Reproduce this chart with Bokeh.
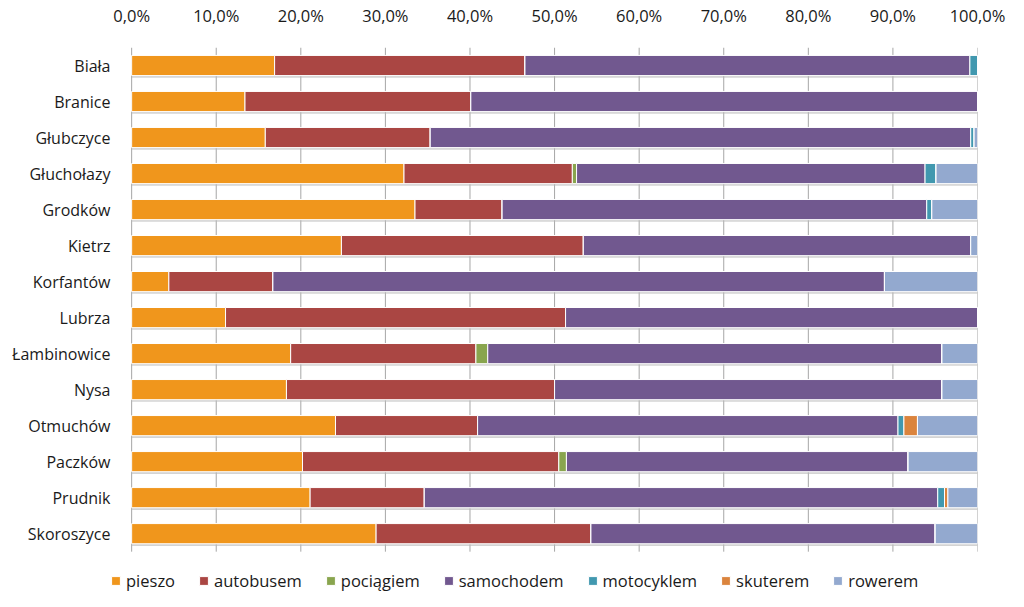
from bokeh.plotting import figure
from bokeh.models import (Range1d, FixedTicker, Legend, LegendItem, ColumnDataSource)
from bokeh.transform import dodge
from bokeh.embed import file_html
from bokeh.resources import INLINE

gminy = ["Biała", "Branice", "Głubczyce", "Głuchołazy", "Grodków", "Kietrz",
         "Korfantów", "Lubrza", "Łambinowice", "Nysa", "Otmuchów", "Paczków",
         "Prudnik", "Skoroszyce"]

pieszo     = [16.9, 13.4, 15.8, 32.2, 33.5, 24.8, 4.4, 11.1, 18.8, 18.3, 24.1, 20.2, 21.1, 28.9]
autobusem  = [29.6, 26.7, 19.5, 19.9, 10.3, 28.6, 12.3, 40.2, 21.9, 31.7, 16.8, 30.3, 13.5, 25.4]
pociagiem  = [0.0, 0.0, 0.0, 0.5, 0.0, 0.0, 0.0, 0.0, 1.4, 0.0, 0.0, 0.9, 0.0, 0.0]
samochodem = [52.6, 59.9, 63.9, 41.2, 50.2, 45.8, 72.3, 48.7, 53.7, 45.8, 49.7, 40.4, 60.7, 40.7]
motocyklem = [0.9, 0.0, 0.4, 1.3, 0.6, 0.0, 0.0, 0.0, 0.0, 0.0, 0.7, 0.0, 0.8, 0.0]
skuterem   = [0.0, 0.0, 0.0, 0.0, 0.0, 0.0, 0.0, 0.0, 0.0, 0.0, 1.6, 0.0, 0.4, 0.0]
rowerem    = [0.0, 0.0, 0.4, 4.9, 5.4, 0.8, 11.0, 0.0, 4.2, 4.2, 7.1, 8.2, 3.5, 5.0]

series = ["pieszo", "autobusem", "pociągiem", "samochodem", "motocyklem", "skuterem", "rowerem"]
colors = ["#F0961C", "#AA4643", "#89A54E", "#71588F", "#4198AF", "#DB843D", "#93A9CF"]

x_ticks = [0, 10, 20, 30, 40, 50, 60, 70, 80, 90, 100]
x_tick_labels = ["0,0%", "10,0%", "20,0%", "30,0%", "40,0%", "50,0%", "60,0%",
                 "70,0%", "80,0%", "90,0%", "100,0%"]

n = len(gminy)
ypos = list(range(n))  # row index, 0 = top
totals = [round(a + b + c + d + e + f + g, 1) for a, b, c, d, e, f, g in
          zip(pieszo, autobusem, pociagiem, samochodem, motocyklem, skuterem, rowerem)]

src = ColumnDataSource(dict(y=ypos, gmina=gminy, pieszo=pieszo, autobusem=autobusem,
                            pociągiem=pociagiem, samochodem=samochodem,
                            motocyklem=motocyklem, skuterem=skuterem,
                            rowerem=rowerem, total=totals, zero=[0] * n))

FONT = "Open Sans"

# frame: left edge a bit left of 0 % so the legend can start there
p = figure(width=1024, height=607, output_backend="svg", toolbar_location=None,
           x_range=Range1d(-2.5, 100), y_range=Range1d(n - 0.5 + 1.55, -0.5),
           x_axis_location="above",
           min_border_left=110, min_border_right=47, min_border_top=46,
           min_border_bottom=0)
p.outline_line_color = None
p.background_fill_color = "white"
p.xgrid.grid_line_color = None
p.ygrid.grid_line_color = None

# vertical gridlines limited to the bar area
p.segment(x0=x_ticks, x1=x_ticks, y0=[-0.5] * len(x_ticks), y1=[n - 0.5] * len(x_ticks),
          line_color="#A6A6A6", line_width=1)

# subtle bar shadow
p.hbar(y=dodge("y", 0.06), left="zero", right="total",
       height=0.56, source=src, fill_color="#B8B8B8", fill_alpha=0.6, line_color=None)

rs = p.hbar_stack(series, y="y", height=0.56, color=colors, source=src,
                  line_color="white", line_width=1)

p.xaxis.ticker = FixedTicker(ticks=x_ticks)
p.xaxis.major_label_overrides = {t: l for t, l in zip(x_ticks, x_tick_labels)}
p.xaxis.axis_line_color = None
p.xaxis.major_tick_line_color = None
p.xaxis.minor_tick_line_color = None
p.xaxis.major_label_standoff = 15
p.xaxis.major_label_text_font = FONT
p.xaxis.major_label_text_font_size = "16.5px"
p.xaxis.major_label_text_color = "#1A1A1A"

p.yaxis.ticker = FixedTicker(ticks=ypos)
p.yaxis.major_label_overrides = {i: g for i, g in zip(ypos, gminy)}
p.yaxis.axis_line_color = None
p.yaxis.major_tick_line_color = None
p.yaxis.minor_tick_line_color = None
p.yaxis.major_label_standoff = -6
p.yaxis.major_label_text_font = FONT
p.yaxis.major_label_text_font_size = "16px"
p.yaxis.major_label_text_color = "#1A1A1A"

legend = Legend(items=[LegendItem(label=s, renderers=[r]) for s, r in zip(series, rs)],
                orientation="horizontal", location=(0, 15),
                glyph_width=11, glyph_height=11, label_standoff=5, spacing=23,
                label_text_font=FONT, label_text_font_size="16.5px",
                label_text_color="#1A1A1A", border_line_color=None,
                background_fill_alpha=0, padding=0, margin=0)
p.add_layout(legend, "center")

open("out.html", "w").write(file_html(p, INLINE))
